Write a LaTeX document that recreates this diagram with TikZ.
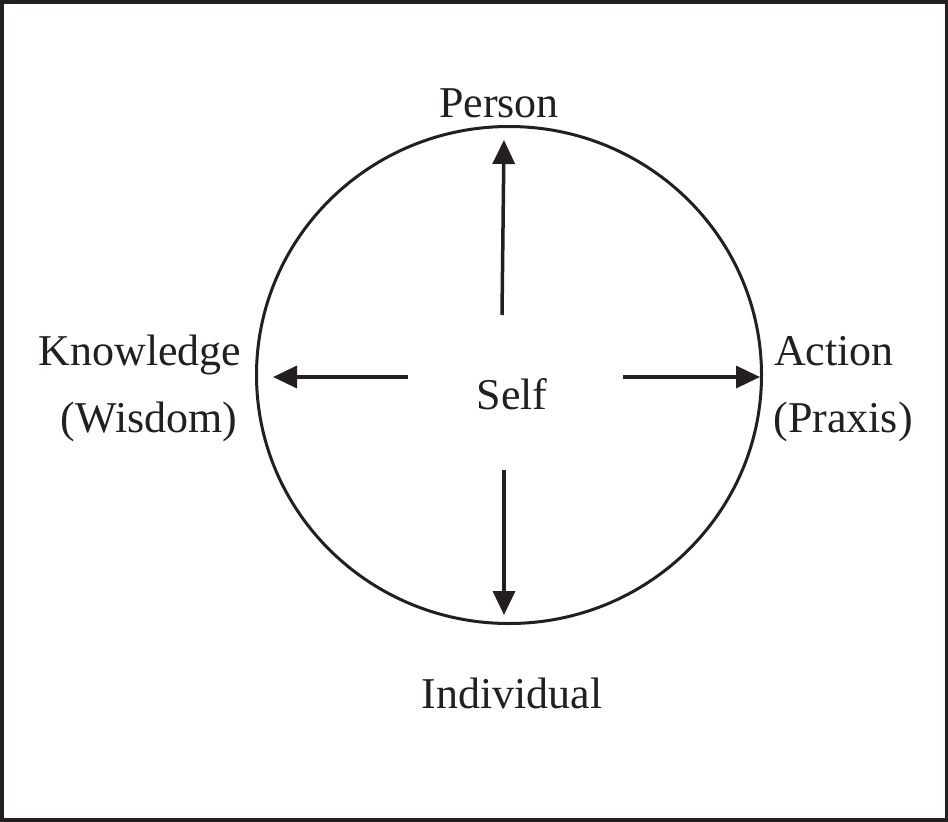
\documentclass[tikz,border=0pt]{standalone}
\usepackage{fontspec}
\setmainfont{Liberation Serif}
\usetikzlibrary{arrows.meta,shapes.geometric}
\definecolor{ink}{HTML}{231F20}
\begin{document}
\begin{tikzpicture}[x=1pt,y=-1pt,
  lbl/.style={anchor=base, inner sep=0pt, text=ink, font=\fontsize{44}{50}\selectfont},
  ray/.style={draw=ink, line width=3.5pt, -{Triangle[length=24pt,width=22pt]}},
  frame/.style={draw=ink, line width=3.5pt}]
\useasboundingbox (0,0) rectangle (948,822);
\draw[frame] (1.75,1.75) rectangle (946.25,820);
\node[draw=ink, line width=3pt, ellipse, minimum width=505pt, minimum height=497pt, inner sep=0pt] (c) at (509,375) {};
% labels
\node[lbl] (person) at (499,117) {Person};
\node[lbl] (know) at (140,365) {Knowledge};
\node[lbl] (wis) at (149,432) {(Wisdom)};
\node[lbl] (act) at (834,365) {Action};
\node[lbl] (prax) at (843,432) {(Praxis)};
\node[lbl] (self) at (512,409) {Self};
\node[lbl] (indiv) at (512,708) {Individual};
% arrow ends
\coordinate (upA) at (502,315);
\coordinate (upB) at (504,140);
\coordinate (lfA) at (408,377);
\coordinate (lfB) at (273,377);
\coordinate (rtA) at (623,377);
\coordinate (rtB) at (760,377);
\coordinate (dnA) at (504,470);
\coordinate (dnB) at (504,615);
\draw[ray] (upA) -- (upB);
\draw[ray] (lfA) -- (lfB);
\draw[ray] (rtA) -- (rtB);
\draw[ray] (dnA) -- (dnB);
\end{tikzpicture}
\end{document}
